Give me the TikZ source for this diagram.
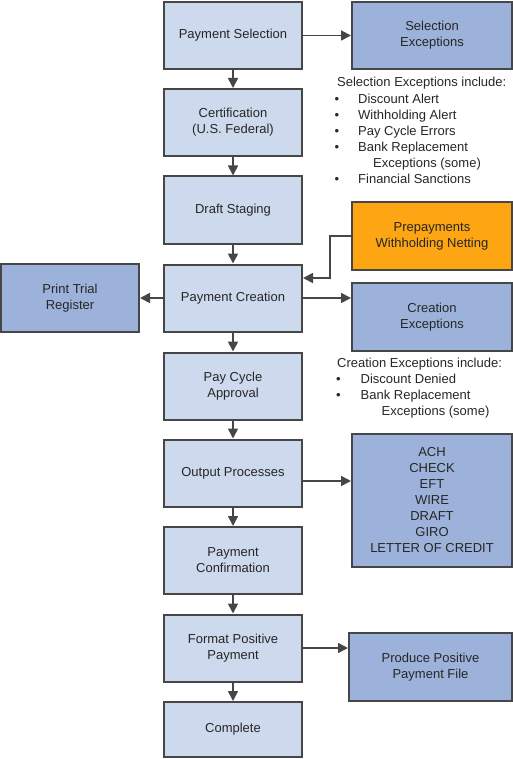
\documentclass[tikz,border=0pt]{standalone}
\usepackage{fontspec}
\setmainfont{Liberation Sans}
\usetikzlibrary{arrows.meta,calc}
\definecolor{lightbox}{RGB}{205,218,237}
\definecolor{darkbox}{RGB}{157,178,218}
\definecolor{orangebox}{RGB}{253,165,18}
\definecolor{edge}{RGB}{70,70,70}
\tikzset{
  base/.style={draw=edge,line width=2pt,rectangle,align=center,inner sep=0pt,
    font=\fontsize{13}{16}\selectfont,text=black!85},
  lbox/.style={base,fill=lightbox,minimum width=138pt,minimum height=67pt},
  dbox/.style={base,fill=darkbox,minimum width=160pt,minimum height=67pt},
  obox/.style={base,fill=orangebox,minimum width=160pt,minimum height=68pt},
  conn/.style={draw=edge,line width=1.7pt,-{Triangle[length=10pt,width=10pt]}},
  txt/.style={anchor=base west,inner sep=0pt,font=\fontsize{13}{16}\selectfont,text=black!85}
}
\begin{document}
\begin{tikzpicture}[x=1pt,y=-1pt]
\useasboundingbox (0,0) rectangle (513,759);
% left column
\node[lbox] (ps) at (233,35.5) {Payment Selection};
\node[lbox] (ce) at (233,122.5) {Certification\\(U.S. Federal)};
\node[lbox] (ds) at (233,210) {Draft Staging};
\node[lbox] (pc) at (233,298) {Payment Creation};
\node[lbox] (pa) at (233,386) {Pay Cycle\\Approval};
\node[lbox] (op) at (233,473) {Output Processes};
\node[lbox] (pf) at (233,560.5) {Payment\\Confirmation};
\node[lbox] (fp) at (233,648) {Format Positive\\Payment};
\node[lbox,minimum height=55pt] (cp) at (233,729.5) {Complete};
% side boxes
\node[dbox] (se) at (432,35.5) {Selection\\Exceptions};
\node[obox] (pw) at (432,236) {Prepayments\\Withholding Netting};
\node[dbox,minimum height=68pt] (cx) at (432,317) {Creation\\Exceptions};
\node[dbox,minimum width=138pt,minimum height=68pt] (pt) at (70,298) {Print Trial\\Register};
\node[dbox,minimum height=133pt] (pm) at (432,500.5) {ACH\\CHECK\\EFT\\WIRE\\DRAFT\\GIRO\\LETTER OF CREDIT};
\node[dbox,minimum width=163pt,minimum height=68pt] (pp) at (430.5,667) {Produce Positive\\Payment File};
% vertical connectors
\draw[conn] (ps) -- (ce);
\draw[conn] (ce) -- (ds);
\draw[conn] (ds) -- (pc);
\draw[conn] (pc) -- (pa);
\draw[conn] (pa) -- (op);
\draw[conn] (op) -- (pf);
\draw[conn] (pf) -- (fp);
\draw[conn] (fp) -- (cp);
% horizontal connectors
\draw[conn] (ps.east) -- (se.west);
\draw[conn] (pc.west) -- (pt.east);
\draw[conn] (pc.east) -- (pc.east -| cx.west);
\coordinate (opout) at ($(op.east)+(0,8)$);
\draw[conn] (opout) -- (opout -| pm.west);
\draw[conn] (fp.east) -- (fp.east -| pp.west);
\coordinate (pcin) at ($(pc.east)+(0,-20)$);
\draw[conn] (pw.west) -- ++(-21,0) |- (pcin);
% selection list
\node[txt] (sh) at (337,86.5) {Selection Exceptions include:};
\node[txt] (sb1) at (334.5,103.5) {\textbullet};
\node[txt] (s1) at (358,103.5) {Discount Alert};
\node[txt] (sb2) at (334.5,119.5) {\textbullet};
\node[txt] (s2) at (358,119.5) {Withholding Alert};
\node[txt] (sb3) at (334.5,135.5) {\textbullet};
\node[txt] (s3) at (358,135.5) {Pay Cycle Errors};
\node[txt] (sb4) at (334.5,151.5) {\textbullet};
\node[txt] (s4) at (358,151.5) {Bank Replacement};
\node[txt] (s4b) at (373,167.5) {Exceptions (some)};
\node[txt] (sb5) at (334.5,183.5) {\textbullet};
\node[txt] (s5) at (358,183.5) {Financial Sanctions};
% creation list
\node[txt] (ch) at (337,367.5) {Creation Exceptions include:};
\node[txt] (cb1) at (336,383.5) {\textbullet};
\node[txt] (c1) at (360.5,383.5) {Discount Denied};
\node[txt] (cb2) at (336,399.5) {\textbullet};
\node[txt] (c2) at (360.5,399.5) {Bank Replacement};
\node[txt] (c2b) at (381.5,415.5) {Exceptions (some)};
\end{tikzpicture}
\end{document}
